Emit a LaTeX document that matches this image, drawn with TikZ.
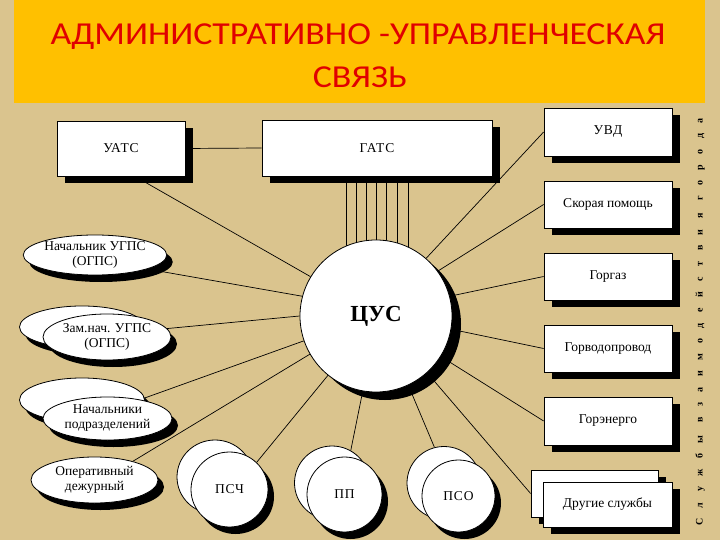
\documentclass[tikz,border=0pt]{standalone}
\usepackage{fontspec}
\setmainfont{Liberation Serif}
\newfontfamily\titlefont{Carlito}
\newfontfamily\vfont[LetterSpace=105]{Liberation Serif}
\newfontfamily\capsfont[LetterSpace=6]{Liberation Serif}
\usetikzlibrary{shapes.geometric,shadows}
\definecolor{bgc}{HTML}{DAC48E}
\definecolor{band}{HTML}{FFC000}
\definecolor{ttl}{HTML}{E00000}
\pgfdeclarelayer{bg}
\pgfdeclarelayer{wires}
\pgfsetlayers{bg,wires,main}
\begin{document}
\begin{tikzpicture}[x=1pt,y=-1pt,
  shad/.style={drop shadow={shadow xshift=8pt,shadow yshift=-7pt,fill=black,opacity=1}},
  eshad/.style={drop shadow={shadow xshift=6pt,shadow yshift=-7pt,fill=black,opacity=1}},
  box/.style={draw,line width=0.8pt,fill=white,minimum width=128pt,minimum height=47pt,inner sep=0pt,font=\fontsize{13.5}{15}\selectfont,shad},
  capsbox/.style={box,font=\capsfont\fontsize{13.5}{15}\selectfont},
  ell/.style={ellipse,draw,line width=0.8pt,fill=white,inner sep=0pt,align=center,font=\fontsize{13.5}{15}\selectfont},
  capsell/.style={ell,font=\capsfont\fontsize{13.5}{15}\selectfont},
  wire/.style={draw,line width=0.7pt}]
\useasboundingbox (0,0) rectangle (720,540);
\begin{pgfonlayer}{bg}
\fill[bgc] (0,0) rectangle (720,540);
\fill[band] (14,0) rectangle (705,103);
\end{pgfonlayer}
\node[font=\titlefont\fontsize{32}{40}\selectfont,text=ttl,anchor=base] (t1) at (358,45) {\scalebox{1.12}[1]{АДМИНИСТРАТИВНО -УПРАВЛЕНЧЕСКАЯ}};
\node[font=\titlefont\fontsize{32}{40}\selectfont,text=ttl,anchor=base] (t2) at (360,88) {\scalebox{1.12}[1]{СВЯЗЬ}};
% boxes
\node[capsbox,minimum height=55pt] (uats) at (121,148.5) {УАТС};
\node[capsbox,minimum width=230pt,minimum height=56pt] (gats) at (377,148) {ГАТС};
\node[capsbox,minimum height=48pt] (uvd) at (608,132) {УВД};
\node[box] (skor) at (608,204.5) {Скорая помощь};
\node[box] (gaz) at (608,276.5) {Горгаз};
\node[box] (vod) at (608,348.5) {Горводопровод};
\node[box,minimum height=48pt] (energ) at (608,421) {Горэнерго};
\node[box,minimum width=127pt] (drb) at (594.5,493.5) {};
\node[box,minimum width=129pt,minimum height=45pt] (dr) at (607.5,504.5) {Другие службы};
% centre
\node[circle,draw,line width=0.8pt,fill=white,minimum size=152pt,inner sep=0pt,font=\bfseries\fontsize{23}{23}\selectfont,drop shadow={shadow xshift=9pt,shadow yshift=-8pt,fill=black,opacity=1}] (cus) at (376,316) {ЦУС};
% left ellipses
\node[ell,eshad,minimum width=130pt,minimum height=40pt] (nach) at (95,255) {Начальник УГПС\\(ОГПС)};
\node[ell,eshad,minimum width=125pt,minimum height=42pt] (zamb) at (82,327) {};
\node[ell,eshad,minimum width=128pt,minimum height=46pt] (zam) at (107,337) {Зам.нач. УГПС\\(ОГПС)};
\node[ell,eshad,minimum width=125pt,minimum height=44pt] (podb) at (82,400) {};
\node[ell,eshad,minimum width=129pt,minimum height=43pt] (pod) at (107.5,418.5) {Начальники\\подразделений};
\node[ell,eshad,minimum width=127pt,minimum height=46pt] (oper) at (94.5,480) {Оперативный\\дежурный};
% bottom circles
\node[ell,minimum width=76pt,minimum height=74pt] (pschb) at (215,477) {};
\node[capsell,eshad,minimum width=77pt,minimum height=75pt] (psch) at (229.5,489.5) {ПСЧ};
\node[ell,minimum width=75pt,minimum height=74pt] (ppb) at (332,483) {};
\node[capsell,eshad,minimum width=75pt,minimum height=75pt] (pp) at (344.5,494.5) {ПП};
\node[ell,minimum width=74pt,minimum height=73pt] (psob) at (444,483) {};
\node[capsell,eshad,minimum width=73pt,minimum height=72pt] (pso) at (458.5,496) {ПСО};
% vertical caption
\node[rotate=90,font=\vfont\bfseries\fontsize{10}{10}\selectfont] (svc) at (700,322) {Службы взаимодействия города};
% connectors
\begin{pgfonlayer}{wires}
\draw[wire] (uats.east) -- (gats.west);
\draw[wire] ([xshift=14pt]uats.south) -- (cus.149);
\foreach \dx in {-31,-21,-11,-1,9,20,31}
  \draw[wire] ([xshift=\dx pt]gats.south) -- ([xshift=\dx pt]gats.south |- cus.center);
\draw[wire] (uvd.west) -- (cus.49);
\draw[wire] (skor.west) -- (cus.36);
\draw[wire] (gaz.west) -- (cus.15);
\draw[wire] (vod.west) -- (cus.-10);
\draw[wire] (energ.west) -- (cus.-32);
\draw[wire] (drb.west) -- (cus.-48);
\draw[wire] (nach.-15) -- (cus.165);
\draw[wire] (zam.8) -- (cus.180);
\draw[wire] (pod.30) -- (cus.199);
\draw[wire] (oper.26) -- (cus.210);
\draw[wire] (psch.45) -- (cus.231);
\draw[wire] (ppb.60) -- (cus.260);
\draw[wire] (psob.105) -- (cus.295);
\end{pgfonlayer}
\end{tikzpicture}
\end{document}
